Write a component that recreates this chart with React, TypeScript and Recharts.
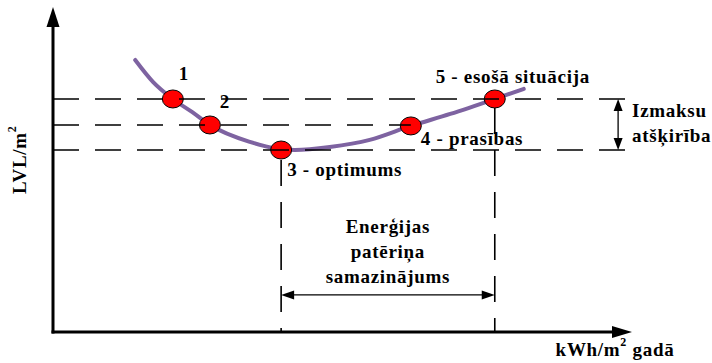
import React from 'react';
import { ComposedChart, Line, Scatter, XAxis, YAxis, ReferenceLine, ReferenceDot } from 'recharts';

// schematic units 0..100 on both axes (energy use across, cost up)
const curveEnergy = [14.2, 17.3, 20.7, 24.0, 27.1, 34.0, 36.6, 39.4, 41.8, 47.8, 54.7, 61.8, 68.6, 76.3, 81.3];
const curveCost = [83.7, 76.9, 71.7, 67.7, 63.7, 58.5, 57.2, 56.2, 56.0, 56.9, 59.1, 63.4, 67.1, 71.7, 74.8];

const pointNames = ['1', '2', '3 - optimums', '4 - prasības', '5 - esošā situācija'];
const pointEnergy = [20.7, 27.1, 39.4, 61.8, 76.3];
const pointCost = [71.7, 63.7, 56.0, 63.4, 71.7];

// dashed cost levels and where each one stops
const costLevels = [71.7, 63.7, 56.0];
const levelEnds = [98.8, 61.8, 98.8];

const yTitle = 'LVL/m';
const xTitle = ['kWh/m', ' gadā'];
const costGapText = ['Izmaksu', 'atšķirība'];
const energyGapText = ['Enerģijas', 'patēriņa', 'samazinājums'];

const curveData = curveEnergy.map((x, i) => ({ x, y: curveCost[i] }));
const pointData = pointEnergy.map((x, i) => ({ x, y: pointCost[i], name: pointNames[i] }));

// label offsets in px from each point
const pointLabelPos = [
  { dx: 11, dy: -25, anchor: 'middle' },
  { dx: 15, dy: -23, anchor: 'middle' },
  { dx: 6, dy: 19, anchor: 'start' },
  { dx: 10, dy: 13, anchor: 'start' },
  { dx: 18, dy: -22, anchor: 'middle' },
];

const font: React.CSSProperties = {
  fontFamily: '"Liberation Serif", "Times New Roman", serif',
  fontWeight: 700,
  fontSize: 19,
  letterSpacing: 0.7,
  fill: '#000',
};

const DASH = '26 16';
const TOP = 900;

const arrow = (len: number, half: number, width: number, both: boolean, cap = 'butt') => (p: any) => {
  const { x1, y1, x2, y2 } = p;
  const d = Math.hypot(x2 - x1, y2 - y1) || 1;
  const ux = (x2 - x1) / d;
  const uy = (y2 - y1) / d;
  const head = (tx: number, ty: number, sx: number, sy: number) => {
    const bx = tx - sx * len;
    const by = ty - sy * len;
    return `${tx},${ty} ${bx - sy * half},${by + sx * half} ${bx + sy * half},${by - sx * half}`;
  };
  const s = both ? len * 0.6 : 0;
  return (
    <g>
      <line
        x1={x1 + ux * s}
        y1={y1 + uy * s}
        x2={x2 - ux * len * 0.6}
        y2={y2 - uy * len * 0.6}
        stroke="#000"
        strokeWidth={width}
        strokeLinecap={cap as any}
      />
      {both && <polygon points={head(x1, y1, -ux, -uy)} fill="#000" />}
      <polygon points={head(x2, y2, ux, uy)} fill="#000" />
    </g>
  );
};

const textLines = (lines: string[], dx: number, dys: number[], anchor: string) => (p: any) => (
  <g>
    {lines.map((t, i) => (
      <text key={i} x={p.cx + dx} y={p.cy + dys[i]} textAnchor={anchor as any} dominantBaseline="central" style={font}>
        {t}
      </text>
    ))}
  </g>
);

const Ellipse = (p: any) => (
  <ellipse cx={p.cx} cy={p.cy} rx={10.5} ry={9} fill="#FF0000" stroke="#000" strokeWidth={1} />
);

export default function App() {
  return (
    <div style={{ position: 'absolute', left: 0, top: 0, background: '#fff' }}>
      <ComposedChart width={712} height={363} margin={{ top: 7, right: 80, bottom: 31, left: 53 }}>
        <XAxis type="number" dataKey="x" domain={[0, 100]} hide />
        <YAxis type="number" dataKey="y" domain={[0, 100]} hide />

        <Line
          data={curveData}
          dataKey="y"
          type="monotone"
          stroke="#7E63A1"
          strokeWidth={4}
          strokeLinecap="round"
          dot={false}
          activeDot={false}
          isAnimationActive={false}
          zIndex={100}
        />
        <Scatter data={pointData} dataKey="y" shape={Ellipse} isAnimationActive={false} zIndex={200} />

        {costLevels.map((c, i) => (
          <ReferenceLine
            key={'lvl' + i}
            segment={[{ x: 0, y: c }, { x: levelEnds[i], y: c }]}
            stroke="#000"
            strokeWidth={1.6}
            strokeDasharray={DASH}
            ifOverflow="visible"
            zIndex={TOP}
          />
        ))}
        <ReferenceLine
          segment={[{ x: pointEnergy[2], y: pointCost[2] }, { x: pointEnergy[2], y: 0 }]}
          stroke="#000"
          strokeWidth={1.6}
          strokeDasharray={DASH}
          strokeDashoffset={32}
          ifOverflow="visible"
          zIndex={TOP}
        />
        <ReferenceLine
          segment={[{ x: pointEnergy[4], y: pointCost[4] }, { x: pointEnergy[4], y: 0 }]}
          stroke="#000"
          strokeWidth={1.6}
          strokeDasharray={DASH}
          strokeDashoffset={33}
          ifOverflow="visible"
          zIndex={TOP}
        />

        {/* axes */}
        <ReferenceLine segment={[{ x: 0, y: 0 }, { x: 100, y: 0 }]} ifOverflow="visible" zIndex={TOP} shape={arrow(20, 6, 3, false, 'square')} />
        <ReferenceLine segment={[{ x: 0, y: 0 }, { x: 0, y: 100 }]} ifOverflow="visible" zIndex={TOP} shape={arrow(20, 6.5, 3, false, 'square')} />

        {/* difference arrows */}
        <ReferenceLine
          segment={[{ x: 97.6, y: costLevels[0] }, { x: 97.6, y: costLevels[2] }]}
          ifOverflow="visible"
          zIndex={TOP}
          shape={arrow(12, 4.5, 1.3, true)}
        />
        <ReferenceLine
          segment={[{ x: pointEnergy[2], y: 11.4 }, { x: pointEnergy[4], y: 11.4 }]}
          ifOverflow="visible"
          zIndex={TOP}
          shape={arrow(13, 4.5, 1.3, true)}
        />

        {pointData.map((pt, i) => (
          <ReferenceDot
            key={'lab' + i}
            x={pt.x}
            y={pt.y}
            r={0}
            ifOverflow="visible"
            zIndex={TOP}
            shape={textLines([pt.name], pointLabelPos[i].dx, [pointLabelPos[i].dy], pointLabelPos[i].anchor)}
          />
        ))}

        <ReferenceDot
          x={97.6}
          y={(costLevels[0] + costLevels[2]) / 2}
          r={0}
          ifOverflow="visible"
          zIndex={TOP}
          shape={textLines(costGapText, 14, [-13.5, 11.5], 'start')}
        />
        <ReferenceDot
          x={(pointEnergy[2] + pointEnergy[4]) / 2}
          y={11.4}
          r={0}
          ifOverflow="visible"
          zIndex={TOP}
          shape={textLines(energyGapText, 0, [-68, -43, -18], 'middle')}
        />

        {/* axis titles */}
        <ReferenceDot
          x={0}
          y={53}
          r={0}
          ifOverflow="visible"
          zIndex={TOP}
          shape={(p: any) => {
            const x = p.cx - 34;
            const y = p.cy;
            return (
              <text x={x} y={y} transform={`rotate(-90 ${x} ${y})`} textAnchor="middle" dominantBaseline="central" style={font}>
                {yTitle}
                <tspan dy={-7} style={{ fontSize: 12 }}>2</tspan>
              </text>
            );
          }}
        />
        <ReferenceDot
          x={100}
          y={0}
          r={0}
          ifOverflow="visible"
          zIndex={TOP}
          shape={(p: any) => (
            <text x={p.cx - 17} y={p.cy + 17} textAnchor="middle" dominantBaseline="central" style={font}>
              {xTitle[0]}
              <tspan dy={-7} style={{ fontSize: 12 }}>2</tspan>
              <tspan dy={7}>{xTitle[1]}</tspan>
            </text>
          )}
        />
      </ComposedChart>
    </div>
  );
}
